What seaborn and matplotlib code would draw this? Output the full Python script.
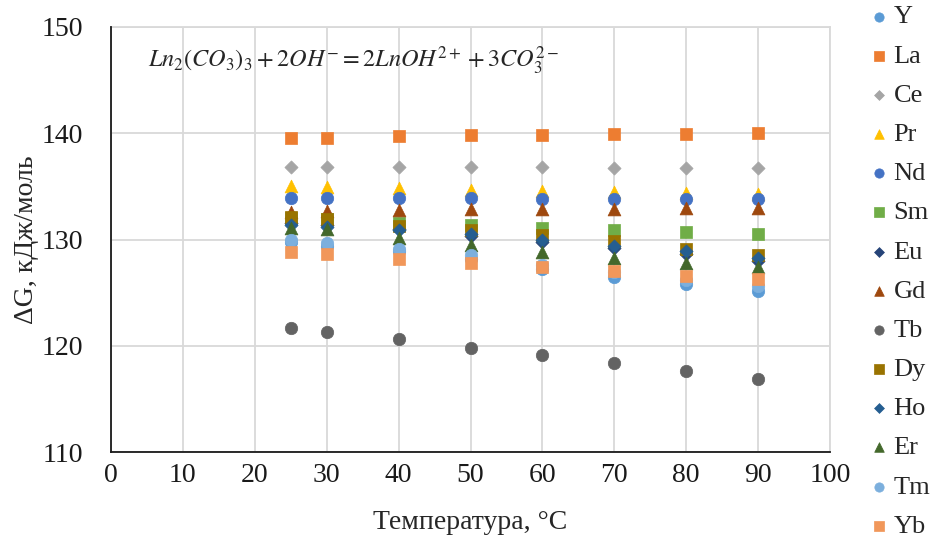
import numpy as np
import pandas as pd
import seaborn as sns
import matplotlib
matplotlib.use("Agg")
import matplotlib.pyplot as plt

temps = [25, 30, 40, 50, 60, 70, 80, 90]
elements = ["Y", "La", "Ce", "Pr", "Nd", "Sm", "Eu", "Gd", "Tb", "Dy", "Ho", "Er", "Tm", "Yb"]

Y  = [129.8, 129.4, 128.9, 128.2, 127.2, 126.5, 125.8, 125.2]
La = [139.6, 139.6, 139.7, 139.8, 139.8, 139.9, 139.9, 140.0]
Ce = [136.8, 136.8, 136.8, 136.8, 136.8, 136.7, 136.7, 136.7]
Pr = [135.0, 134.9, 134.8, 134.7, 134.6, 134.5, 134.4, 134.3]
Nd = [133.9, 133.9, 133.9, 133.9, 133.8, 133.8, 133.8, 133.8]
Sm = [132.0, 131.9, 131.6, 131.4, 131.1, 130.9, 130.7, 130.5]
Eu = [131.6, 131.4, 131.0, 130.3, 129.8, 129.2, 128.6, 128.0]
Gd = [132.6, 132.7, 132.8, 132.9, 132.9, 132.9, 133.0, 133.0]
Tb = [121.7, 121.3, 120.6, 119.8, 119.1, 118.4, 117.6, 116.9]
Dy = [132.1, 131.9, 131.3, 130.9, 130.4, 129.9, 129.1, 128.5]
Ho = [131.4, 131.2, 130.9, 130.5, 130.0, 129.4, 128.9, 128.3]
Er = [131.1, 131.0, 130.1, 129.5, 128.8, 128.3, 127.8, 127.4]
Tm = [130.0, 129.7, 129.1, 128.5, 127.6, 126.9, 126.2, 125.6]
Yb = [128.8, 128.6, 128.2, 127.8, 127.4, 127.0, 126.6, 126.3]

series = [Y, La, Ce, Pr, Nd, Sm, Eu, Gd, Tb, Dy, Ho, Er, Tm, Yb]

colors = ["#5B9BD5", "#ED7D31", "#A5A5A5", "#FFC000", "#4472C4", "#70AD47", "#264478",
          "#9E480E", "#636363", "#997300", "#255E91", "#43682B", "#7CAFDD", "#F1975A"]
markers = ["o", "s", "D", "^", "o", "s", "D", "^", "o", "s", "D", "^", "o", "s"]
sizes = [80, 80, 45, 85, 80, 80, 45, 85, 80, 80, 45, 85, 80, 80]

rows = []
for el, vals in zip(elements, series):
    for t, v in zip(temps, vals):
        rows.append({"T": t, "G": v, "el": el})
df = pd.DataFrame(rows)

sns.set_theme(style="white")
plt.rcParams["font.family"] = ["Liberation Serif", "DejaVu Serif"]
plt.rcParams["mathtext.fontset"] = "stix"

fig = plt.figure(figsize=(9.34, 5.41), dpi=100)
ax = fig.add_axes([111 / 934, 1 - 452 / 541, 719 / 934, 425 / 541])

for el, c, m, s in zip(elements, colors, markers, sizes):
    sub = df[df["el"] == el]
    sns.scatterplot(data=sub, x="T", y="G", ax=ax, color=c, marker=m, s=s,
                    edgecolor=c, linewidth=0.5, label=el, zorder=3)

ax.set_xlim(0, 100)
ax.set_ylim(110, 150)
ax.set_xticks(range(0, 101, 10))
ax.set_yticks(range(110, 151, 10))
ax.grid(True, color="#D9D9D9", linewidth=1.3, zorder=0)
ax.set_axisbelow(True)
for sp in ["top", "right"]:
    ax.spines[sp].set_color("#D9D9D9")
    ax.spines[sp].set_linewidth(1.3)
for sp in ["left", "bottom"]:
    ax.spines[sp].set_color("#1a1a1a")
    ax.spines[sp].set_linewidth(1.3)
    ax.spines[sp].set_zorder(4)
ax.tick_params(axis="both", labelsize=20, colors="#1a1a1a", direction="inout",
               length=8, width=1.2)
ax.tick_params(axis="y", pad=16)
ax.tick_params(axis="x", pad=4)
ax.set_xlabel("Температура, °C", fontsize=20, labelpad=16)
ax.set_ylabel("ΔG, кДж/моль", fontsize=20, labelpad=2)

ax.text(5.1, 146.8, r"$Ln_2(CO_3)_3+2OH^{-}=2LnOH^{2+}+3CO_3^{2-}$",
        fontsize=17.5, va="center", ha="left")

handles, labels = ax.get_legend_handles_labels()
ax.legend(handles, labels, loc="upper left", bbox_to_anchor=(871 / 934, 1 - 5 / 541),
          bbox_transform=fig.transFigure, frameon=False, fontsize=19,
          labelspacing=0.595, handletextpad=0.25, markerscale=0.75, borderaxespad=0.0,
          borderpad=0.0, handlelength=0.6)

fig.savefig("out.png", dpi=100)
